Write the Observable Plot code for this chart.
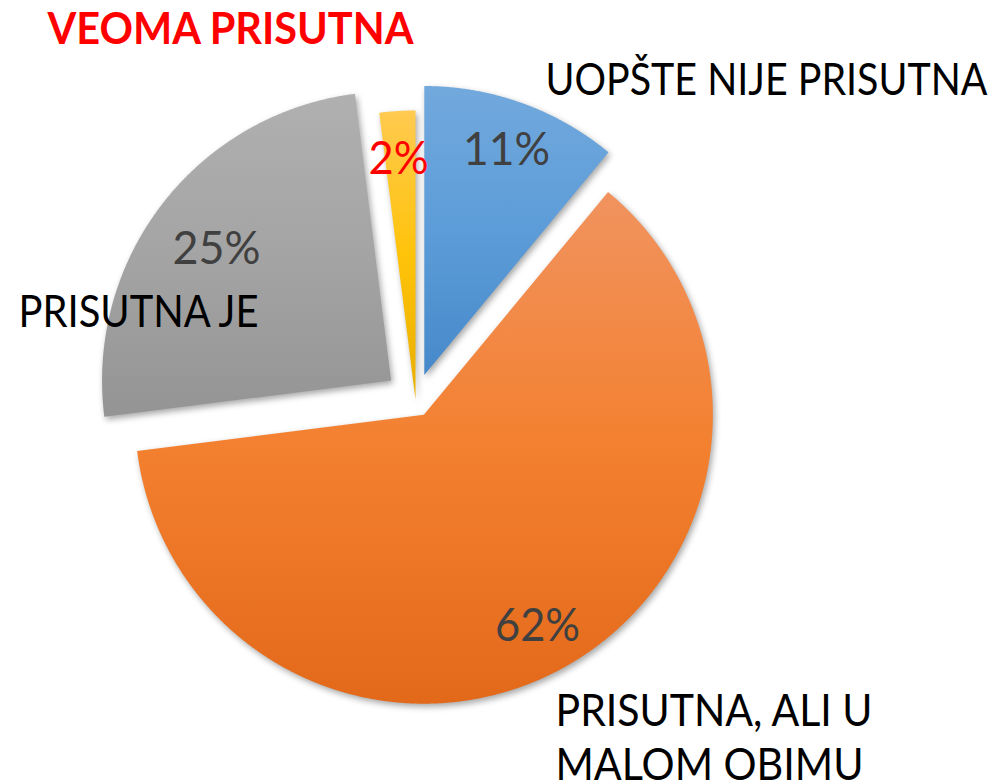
<!DOCTYPE html>
<html>
<head>
<meta charset="utf-8">
<script src="https://cdn.jsdelivr.net/npm/d3@7"></script>
<script src="https://cdn.jsdelivr.net/npm/@observablehq/plot@0.6"></script>
<style>
html, body { margin: 0; padding: 0; background: #ffffff; overflow: hidden; }
.slice path { filter: drop-shadow(2px 3px 3px rgba(0,0,0,0.35)); }
</style>
</head>
<body>
<div id="chart"></div>
<script>
// ---- data ----
const categories = ["UOPŠTE NIJE PRISUTNA", "PRISUTNA, ALI U\nMALOM OBIMU", "PRISUTNA JE", "VEOMA PRISUTNA"];
const values = [11, 62, 25, 2];
const percentLabels = ["11%", "62%", "25%", "2%"];

// ---- styles / layout (kept apart from data) ----
const sliceGradients = [
  ["#72a9dd", "#5c9cd8", "#4689ca"],
  ["#f1935f", "#f3802f", "#e3691a"],
  ["#b0b0b0", "#a4a4a4", "#949494"],
  ["#ffca50", "#ffc30a", "#e8ae00"]
];
const explode = [0.09, 0.06, 0.107, 0];          // per-slice offset (radius units)
const CX = 415, CY = 399, R = 289;                // pixel placement of the pie
const W = 998, H = 784;
const ux = px => (px - CX) / R;
const uy = py => (CY - py) / R;

const catLayout = [
  {px: 545, py: [80], w: [442], size: 44, color: "#000000", bold: false},
  {px: 555, py: [711, 765], w: [317, 308], size: 44, color: "#000000", bold: false},
  {px: 18, py: [312], w: [240], size: 44, color: "#000000", bold: false},
  {px: 47, py: [30], w: [366], size: 43, color: "#ff0000", bold: true}
];
const pctLayout = [
  {cx: 506, py: 150, w: 87, size: 46, color: "#404040"},
  {cx: 537, py: 626, w: 85, size: 46, color: "#404040"},
  {cx: 216, py: 249, w: 88, size: 46, color: "#404040"},
  {cx: 398, py: 159, w: 60, size: 46, color: "#ff0000"}
];

// ---- geometry from data ----
const arcs = d3.pie().sort(null).value(d => d)(values);
const slices = arcs.map((a, i) => {
  const mid = (a.startAngle + a.endAngle) / 2;
  const ox = explode[i] * Math.sin(mid), oy = explode[i] * Math.cos(mid);
  const pts = [{x: ox, y: oy}];
  const n = Math.max(2, Math.ceil((a.endAngle - a.startAngle) / 0.004));
  for (let k = 0; k <= n; k++) {
    const t = a.startAngle + (a.endAngle - a.startAngle) * k / n;
    pts.push({x: ox + Math.sin(t), y: oy + Math.cos(t)});
  }
  pts.push({x: ox, y: oy});
  return pts;
});

const catItems = [];
categories.forEach((c, i) => {
  c.split("\n").forEach((line, j) => {
    const L = catLayout[i];
    catItems.push({text: line, x: ux(L.px), y: uy(L.py[j]), w: L.w[j], size: L.size, color: L.color, bold: L.bold});
  });
});
const normalItems = catItems.filter(d => !d.bold);
const boldItems = catItems.filter(d => d.bold);
const pctItems = percentLabels.map((t, i) => ({
  text: t, x: ux(pctLayout[i].cx), y: uy(pctLayout[i].py), w: pctLayout[i].w,
  size: pctLayout[i].size, color: pctLayout[i].color
}));

const font = "Lato, 'Open Sans', sans-serif";

const chart = Plot.plot({
  width: W,
  height: H,
  margin: 0,
  x: {domain: [ux(0), ux(W)], range: [0, W], axis: null},
  y: {domain: [uy(H), uy(0)], range: [H, 0], axis: null},
  color: {type: "identity"},
  style: {background: "#ffffff", fontFamily: font},
  marks: [
    ...slices.map((pts, i) => Plot.line(pts, {
      x: "x", y: "y", fill: `url(#sliceGrad${i})`, stroke: "none", curve: "linear", className: "slice"
    })),
    Plot.text(pctItems, {
      x: "x", y: "y", text: "text", fill: "color", fontSize: "size",
      textAnchor: "middle", lineAnchor: "middle", fontFamily: font, className: "pct"
    }),
    Plot.text(normalItems, {
      x: "x", y: "y", text: "text", fill: "color", fontSize: "size",
      textAnchor: "start", lineAnchor: "middle", fontFamily: font, className: "cat"
    }),
    Plot.text(boldItems, {
      x: "x", y: "y", text: "text", fill: "color", fontSize: "size", fontWeight: "bold",
      textAnchor: "start", lineAnchor: "middle", fontFamily: font, className: "title"
    })
  ]
});

// gradients
const svg = d3.select(chart);
const defs = svg.insert("defs", ":first-child");
sliceGradients.forEach((stops, i) => {
  const g = defs.append("linearGradient").attr("id", `sliceGrad${i}`)
    .attr("x1", 0).attr("y1", 0).attr("x2", 0).attr("y2", 1);
  stops.forEach((c, k) => g.append("stop").attr("offset", k / (stops.length - 1)).attr("stop-color", c));
});

// fit text widths to the reference
function fit(cls, items) {
  svg.selectAll(`g.${cls} text`).each(function(_, k) {
    if (items[k]) d3.select(this).attr("textLength", items[k].w).attr("lengthAdjust", "spacingAndGlyphs");
  });
}
fit("pct", pctItems);
fit("cat", normalItems);
fit("title", boldItems);

document.getElementById("chart").appendChild(chart);
</script>
</body>
</html>
